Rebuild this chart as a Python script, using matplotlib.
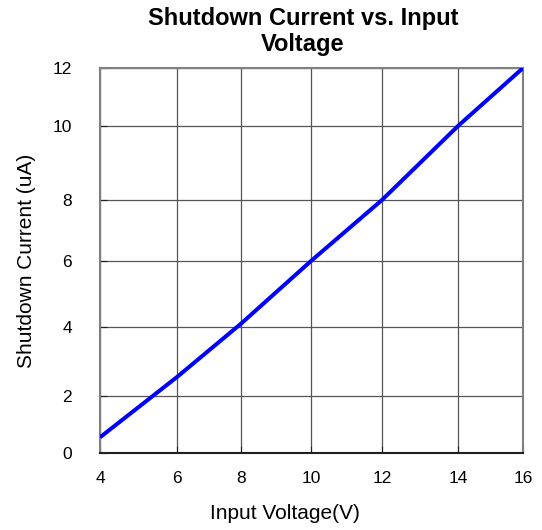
import numpy as np
import matplotlib.pyplot as plt

# data
voltage = [4, 6, 8, 10, 12, 14, 16]
current = [0.55, 2.55, 4.1, 6.0, 8.0, 10.0, 12.0]

x_ticks = [4, 6, 8, 10, 12, 14, 16]
y_ticks = [0, 2, 4, 6, 8, 10, 12]

# the original grid is not evenly spaced; relative pixel spacing of each tick
x_grid_px = [0, 77, 141, 211, 282, 358, 423]
y_grid_px = [0, 57, 126, 192, 253, 327, 385]


def make_scale(vals, px):
    vals = np.asarray(vals, float)
    px = np.asarray(px, float)

    def interp(v, a, b):
        v = np.asarray(v, float)
        out = np.interp(v, a, b)
        lo = v < a[0]
        hi = v > a[-1]
        s0 = (b[1] - b[0]) / (a[1] - a[0])
        s1 = (b[-1] - b[-2]) / (a[-1] - a[-2])
        out = np.where(lo, b[0] + (v - a[0]) * s0, out)
        out = np.where(hi, b[-1] + (v - a[-1]) * s1, out)
        return out

    return (lambda v: interp(v, vals, px), lambda p: interp(p, px, vals))


plt.rcParams['font.family'] = ['Liberation Sans', 'DejaVu Sans']

fig = plt.figure(figsize=(5.42, 5.30), dpi=100)
ax = fig.add_axes([100 / 542, 1 - 453 / 530, 423 / 542, 385 / 530])

ax.set_xscale('function', functions=make_scale(x_ticks, x_grid_px))
ax.set_yscale('function', functions=make_scale(y_ticks, y_grid_px))

ax.plot(voltage, current, color='#0000ff', lw=2.9, solid_capstyle='butt', zorder=3)

ax.set_xlim(4, 16)
ax.set_ylim(0, 12)
ax.set_xticks(x_ticks)
ax.set_yticks(y_ticks)
ax.grid(True, color='#555555', lw=0.9)

for side in ['left', 'top', 'right']:
    ax.spines[side].set_color('#808080')
    ax.spines[side].set_linewidth(1.5)
ax.spines['bottom'].set_color('#202020')
ax.spines['bottom'].set_linewidth(1.5)

ax.tick_params(axis='x', direction='in', length=5, color='#202020', labelsize=12.5, pad=13)
ax.tick_params(axis='y', direction='in', length=5, color='#202020', labelsize=12.5, pad=20)

ax.set_xlabel('Input Voltage(V)', fontsize=15)
ax.xaxis.set_label_coords(0.437, -0.132)
ax.set_ylabel('Shutdown Current (uA)', fontsize=15, labelpad=12)
ax.set_title('Shutdown Current vs. Input\nVoltage', fontsize=17, fontweight='bold',
             x=0.48, pad=12, linespacing=1.2)

fig.savefig('out.png', dpi=100)
